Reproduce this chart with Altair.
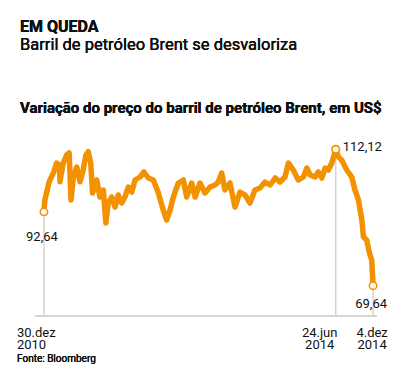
import altair as alt
import pandas as pd

# Brent price trace (US$ per barrel)
dates = [
    "2010-12-30", "2011-01-03", "2011-01-22", "2011-02-09", "2011-02-23", "2011-03-07",
    "2011-03-10", "2011-03-24", "2011-04-08", "2011-04-19", "2011-04-27", "2011-05-07",
    "2011-05-22", "2011-06-05", "2011-06-19", "2011-07-01", "2011-07-11", "2011-07-22",
    "2011-07-30", "2011-08-17", "2011-08-31", "2011-09-15", "2011-09-26", "2011-10-06",
    "2011-10-21", "2011-11-05", "2011-11-19", "2011-12-04", "2011-12-18", "2012-01-02",
    "2012-01-17", "2012-01-31", "2012-02-22", "2012-03-10", "2012-03-29", "2012-04-20",
    "2012-05-12", "2012-06-02", "2012-06-17", "2012-07-02", "2012-07-16", "2012-08-07",
    "2012-08-29", "2012-09-12", "2012-10-04", "2012-10-19", "2012-11-09", "2012-12-01",
    "2012-12-23", "2013-01-14", "2013-01-28", "2013-02-12", "2013-02-26", "2013-03-20",
    "2013-04-11", "2013-05-03", "2013-05-25", "2013-06-15", "2013-07-07", "2013-07-29",
    "2013-08-20", "2013-09-11", "2013-10-03", "2013-10-24", "2013-11-15", "2013-11-30",
    "2013-12-21", "2014-01-12", "2014-02-03", "2014-02-18", "2014-03-04", "2014-03-26",
    "2014-04-09", "2014-04-24", "2014-05-09", "2014-05-23", "2014-06-07", "2014-06-24",
    "2014-07-06", "2014-07-20", "2014-08-11", "2014-09-02", "2014-09-16", "2014-10-01",
    "2014-10-16", "2014-10-23", "2014-11-06", "2014-11-18", "2014-11-28", "2014-12-04",
]
prices = [
    92.64, 96.33, 102.03, 104.74, 107.85, 107.23,
    102.03, 107.85, 110.34, 110.97, 96.33, 103.49,
    106.61, 102.03, 105.67, 110.34, 111.37, 107.85,
    98.51, 102.56, 97.26, 99.44, 89.16, 95.39,
    97.26, 94.14, 97.88, 95.39, 97.26, 100.38,
    98.82, 102.56, 103.49, 105.05, 103.18, 102.56,
    98.51, 93.21, 90.10, 93.21, 97.26, 101.62,
    102.56, 97.26, 101.62, 97.26, 101.62, 98.51,
    100.38, 101.00, 101.93, 104.74, 99.44, 101.62,
    94.14, 98.82, 97.88, 95.39, 99.44, 100.06,
    101.93, 101.00, 103.18, 101.93, 103.49, 107.85,
    105.67, 102.56, 103.49, 106.29, 104.11, 103.49,
    105.05, 103.18, 106.29, 105.67, 107.85, 112.12,
    109.72, 108.79, 105.67, 103.49, 99.44, 96.33,
    90.10, 84.80, 83.87, 79.81, 77.63, 69.64,
]

# highlighted points
key_dates = ["2010-12-30", "2014-06-24", "2014-12-04"]
key_prices = [92.64, 112.12, 69.64]
key_labels = ["92,64", "112,12", "69,64"]
tick_labels = ["30.dez\n2010", "24.jun\n2014", "4.dez\n2014"]

title_text = "EM QUEDA"
subtitle_text = "Barril de petróleo Brent se desvaloriza"
chart_title_text = "Variação do preço do barril de petróleo Brent, em US$"
source_text = "Fonte: Bloomberg"

df = pd.DataFrame({"date": dates, "price": prices})
kdf = pd.DataFrame({"date": key_dates, "price": key_prices,
                    "label": key_labels, "tick": tick_labels,
                    "idx": [0, 1, 2]})

W, H = 342, 216
ORANGE = "#f39200"
GRID = "#d4d4d4"
FONT = "Roboto"

xs = alt.Scale(type="utc", domain=[alt.DateTime(year=2010, month=11, date=21, utc=True),
                                   alt.DateTime(year=2014, month=12, date=21, utc=True)])
ys = alt.Scale(domain=[60.19, 127.48], nice=False, zero=False)
X = alt.X("date:T", scale=xs, axis=None)
Y = alt.Y("price:Q", scale=ys, axis=None)

base_k = alt.Chart(kdf)

grid = base_k.mark_rule(color=GRID, strokeWidth=1.5).encode(
    x=X, y=Y, y2=alt.value(H))

baseline = alt.Chart(kdf).mark_rule(color=GRID, strokeWidth=1.5).encode(
    x=alt.value(0), x2=alt.value(W), y=alt.value(H))

line = alt.Chart(df).mark_line(color=ORANGE, strokeWidth=5.5, strokeCap="round",
                               strokeJoin="round").encode(x=X, y=Y)

pts = base_k.mark_point(shape="circle", size=55, filled=True, fill="white",
                        stroke=ORANGE, strokeWidth=1.6, opacity=1).encode(x=X, y=Y)

def lab(i, align, dx, dy):
    return base_k.transform_filter(alt.datum.idx == i).mark_text(
        font=FONT, fontSize=13, align=align, baseline="middle", dx=dx, dy=dy,
        color="#111").encode(x=X, y=Y, text="label:N")

labels = lab(0, "center", -2, 25) + lab(1, "left", 7, -2) + lab(2, "center", -2, 18)

def tick(i, align, dx):
    return base_k.transform_filter(alt.datum.idx == i).mark_text(
        font=FONT, fontSize=13, align=align, baseline="top", dx=dx,
        lineBreak="\n", lineHeight=11.5, color="#111").encode(
        x=X, y=alt.value(227), text="tick:N")

ticks = tick(0, "left", -27) + tick(1, "center", -16) + tick(2, "center", -1)

def txt(s, x, y, size, weight="normal"):
    return alt.Chart(kdf).mark_text(font=FONT, fontSize=size, fontWeight=weight,
                                    align="left", baseline="alphabetic",
                                    color="#111", text=s).encode(
        x=alt.value(x), y=alt.value(y))

texts = (txt(title_text, -15, -68, 16, "bold") +
         txt(subtitle_text, -15, -50, 16.5) +
         txt(chart_title_text, -15, 13, 15, "bold") +
         txt(source_text, -18, 261.5, 10))

chart = alt.layer(grid, baseline, line, pts, labels, ticks, texts).properties(
    width=W, height=H,
    padding={"left": 27, "top": 92, "right": 30, "bottom": 49},
    autosize=alt.AutoSizeParams(type="none"),
).configure_view(stroke=None)

chart.save("out.html", embed_options={"renderer": "svg", "actions": False})
